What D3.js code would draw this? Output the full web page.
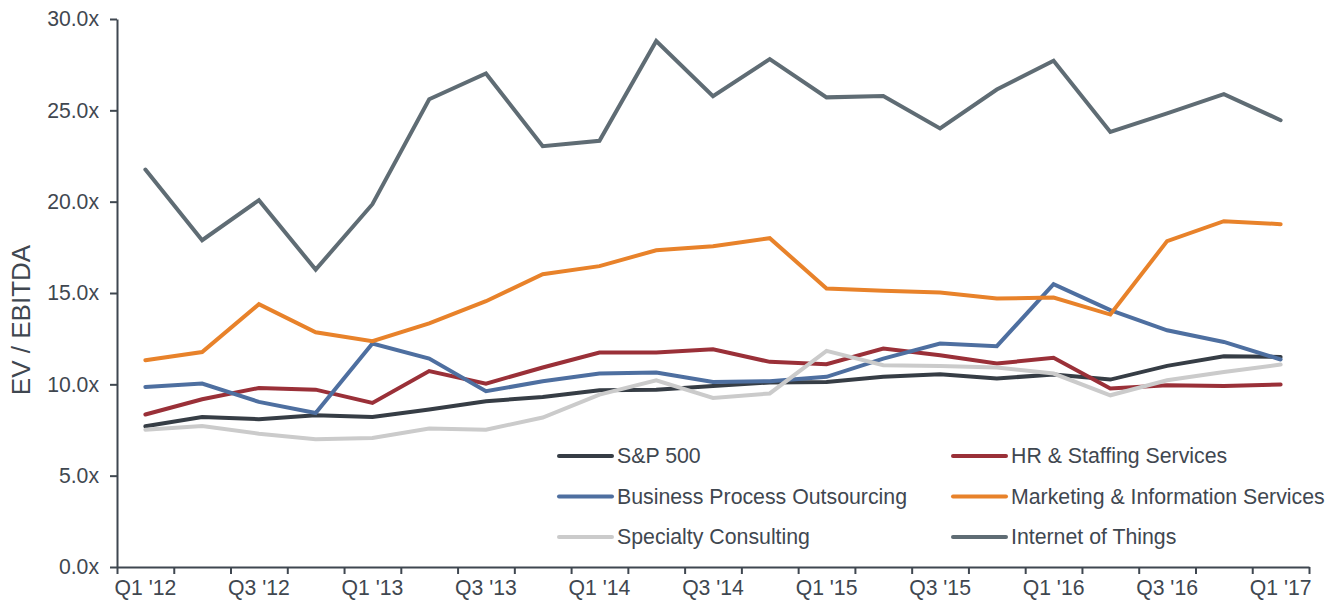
<!DOCTYPE html>
<html lang="en">
<head>
<meta charset="UTF-8">
<title>EV / EBITDA by sector</title>
<script src="https://d3js.org/d3.v7.min.js"></script>
<style>
  body { margin: 0; background: #fff; }
  text { font-family: "Liberation Sans", Arial, sans-serif; fill: #3f4750; }
  .axis path, .axis line { stroke: #3f4750; stroke-width: 2px; }
  .axis text { font-size: 21.2px; }
  .series { fill: none; stroke-width: 4px; stroke-linejoin: miter; stroke-linecap: round; }
</style>
</head>
<body>
<div id="chart"></div>
<script>
// quarters Q1 '12 .. Q1 '17
const quarters = ["Q1 '12","Q2 '12","Q3 '12","Q4 '12","Q1 '13","Q2 '13","Q3 '13","Q4 '13",
  "Q1 '14","Q2 '14","Q3 '14","Q4 '14","Q1 '15","Q2 '15","Q3 '15","Q4 '15",
  "Q1 '16","Q2 '16","Q3 '16","Q4 '16","Q1 '17"];
const yTicks = [0, 5, 10, 15, 20, 25, 30];

const seriesNames = ["S&P 500", "HR & Staffing Services", "Business Process Outsourcing",
  "Marketing & Information Services", "Specialty Consulting", "Internet of Things"];
const seriesColors = ["#363d45", "#9a3038", "#4e6fa0", "#e8822a", "#cbcbcb", "#5f6c74"];

const sp500 = [7.70, 8.21, 8.09, 8.31, 8.21, 8.62, 9.07, 9.31, 9.68, 9.71, 9.91,
  10.10, 10.13, 10.41, 10.55, 10.32, 10.54, 10.26, 11.01, 11.54, 11.50];
const hrStaffing = [8.35, 9.18, 9.80, 9.71, 8.98, 10.73, 10.04, 10.92, 11.74, 11.74, 11.92,
  11.23, 11.10, 11.96, 11.59, 11.14, 11.45, 9.77, 9.95, 9.91, 9.99];
const bpo = [9.86, 10.04, 9.04, 8.43, 12.23, 11.41, 9.62, 10.17, 10.59, 10.65, 10.13,
  10.17, 10.41, 11.41, 12.23, 12.09, 15.48, 14.06, 12.96, 12.32, 11.36];
const marketing = [11.32, 11.77, 14.39, 12.85, 12.36, 13.34, 14.55, 16.03, 16.47, 17.34, 17.56,
  18.00, 15.25, 15.12, 15.03, 14.70, 14.75, 13.82, 17.84, 18.93, 18.77];
const specialty = [7.52, 7.72, 7.30, 6.99, 7.06, 7.58, 7.52, 8.18, 9.44, 10.22, 9.25,
  9.50, 11.83, 11.05, 11.01, 10.92, 10.59, 9.40, 10.22, 10.68, 11.08];
const iot = [21.76, 17.89, 20.08, 16.28, 19.86, 25.61, 27.02, 23.04, 23.33, 28.79, 25.78,
  27.80, 25.71, 25.78, 24.01, 26.14, 27.71, 23.82, 24.83, 25.89, 24.46];

const seriesValues = [sp500, hrStaffing, bpo, marketing, specialty, iot];

const width = 1340, height = 605;
const plotLeft = 117, plotRight = 1309, plotTop = 19, plotBottom = 567;

const svg = d3.select("#chart").append("svg")
  .attr("width", width)
  .attr("height", height);

const x = d3.scaleBand().domain(quarters).range([plotLeft, plotRight]);
const xEdge = d3.scaleLinear().domain([0, quarters.length]).range([plotLeft, plotRight]);
const y = d3.scaleLinear().domain([0, 30]).range([plotBottom, plotTop]);

// y axis
svg.append("g")
  .attr("class", "axis")
  .attr("transform", `translate(${plotLeft},0)`)
  .call(d3.axisLeft(y).tickValues(yTicks).tickSize(7).tickSizeOuter(0).tickPadding(11)
    .tickFormat(d => d3.format(".1f")(d) + "x"));

// x axis: ticks at quarter boundaries, labels every other quarter
svg.append("g")
  .attr("class", "axis")
  .attr("transform", `translate(0,${plotBottom})`)
  .call(d3.axisBottom(xEdge).tickValues(d3.range(quarters.length + 1)).tickSize(7)
    .tickSizeOuter(0).tickFormat(""));

svg.append("g")
  .attr("class", "axis")
  .attr("transform", `translate(0,${plotBottom})`)
  .call(d3.axisBottom(x).tickSize(0).tickPadding(13)
    .tickFormat((d, i) => i % 2 === 0 ? d : ""))
  .call(g => g.select(".domain").remove());

// y title
svg.append("text")
  .attr("transform", `translate(30,${(plotTop + plotBottom) / 2 + 27}) rotate(-90)`)
  .attr("text-anchor", "middle")
  .style("font-size", "26px")
  .text("EV / EBITDA");

const line = d3.line()
  .x((d, i) => x(quarters[i]) + x.bandwidth() / 2)
  .y(d => y(d));

svg.selectAll("path.series")
  .data(seriesValues)
  .join("path")
  .attr("class", "series")
  .attr("stroke", (d, i) => seriesColors[i])
  .attr("d", line);

// legend, two columns
const legend = svg.selectAll("g.legend")
  .data(seriesNames)
  .join("g")
  .attr("class", "legend")
  .attr("transform", (d, i) => `translate(${i % 2 === 0 ? 559 : 953},${456 + Math.floor(i / 2) * 40.5})`);

legend.append("line")
  .attr("x1", 0).attr("x2", 53)
  .attr("stroke", (d, i) => seriesColors[i])
  .attr("stroke-width", 4)
  .attr("stroke-linecap", "round");

legend.append("text")
  .attr("x", 58)
  .attr("dy", "0.35em")
  .style("font-size", "21.3px")
  .text(d => d);
</script>
</body>
</html>
